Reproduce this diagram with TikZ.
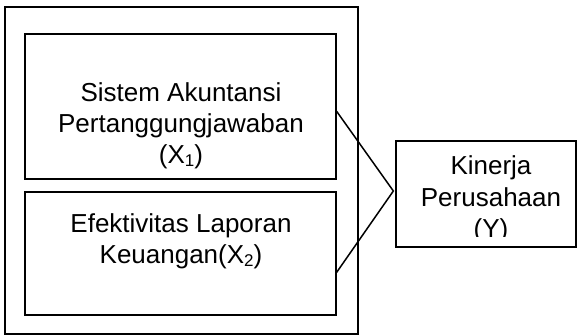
\documentclass[tikz,border=0pt]{standalone}
\usepackage{fontspec}
\setmainfont{Liberation Sans}
\usetikzlibrary{calc}
\newcommand{\sbs}[1]{\raisebox{-2.5pt}{\fontsize{17}{17}\selectfont #1}}
\begin{document}
\begin{tikzpicture}[x=1pt,y=-1pt,
  frame/.style={draw=black, line width=1.3pt, rectangle, inner sep=0pt},
  lbl/.style={anchor=base, inner sep=0pt, font=\fontsize{26}{31}\selectfont},
  link/.style={draw=black, line width=1.5pt}]
\useasboundingbox (0,0) rectangle (578,336);
% outer frame
\node[frame, minimum width=353pt, minimum height=327pt] (outer) at (181.5,170.5) {};
% box 1
\node[frame, minimum width=311pt, minimum height=145pt] (b1) at (180.5,106.5) {};
\node[lbl] (t1a) at (181,102) {Sistem Akuntansi};
\node[lbl] (t1b) at (181,133) {Pertanggungjawaban};
\node[lbl] (t1c) at (181,164) {(X\sbs{1})};
% box 2
\node[frame, minimum width=311pt, minimum height=123pt] (b2) at (180.5,253.5) {};
\node[lbl] (t2a) at (181,233) {Efektivitas Laporan};
\node[lbl] (t2b) at (181,264) {Keuangan(X\sbs{2})};
% right box
\node[frame, minimum width=180pt, minimum height=106pt] (y) at (486,194) {};
\node[lbl] (ya) at (491,175) {Kinerja};
\node[lbl] (yb) at (491,207) {Perusahaan};
\begin{scope}
\clip (397,142) rectangle (575,237);
\node[lbl] (yc) at (491,238) {(Y)};
\end{scope}
% connectors
\coordinate (p1) at ($(b1.north east)+(0,78)$);
\coordinate (p2) at ($(b2.north east)+(0,81)$);
\coordinate (tip) at ($(y.west)+(-2,-3)$);
\draw[link] (p1) -- (tip) -- (p2);
\end{tikzpicture}
\end{document}
